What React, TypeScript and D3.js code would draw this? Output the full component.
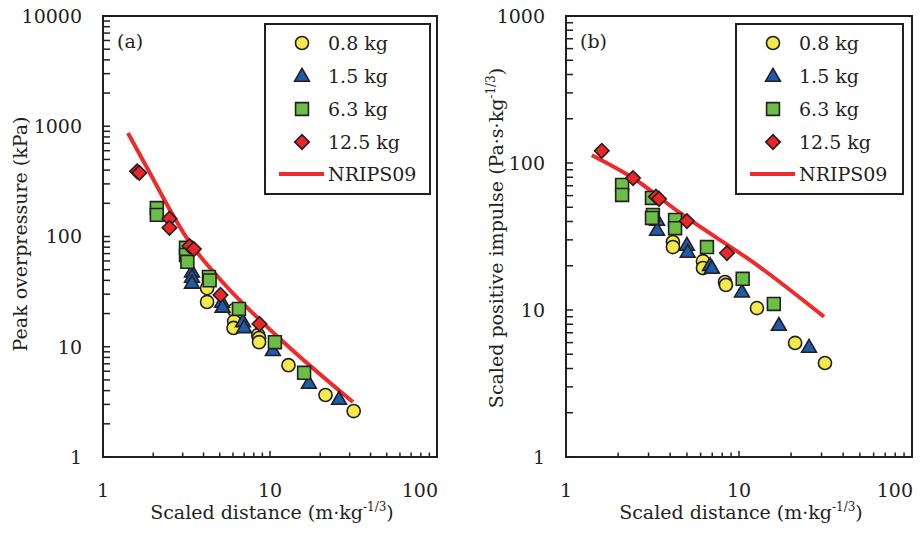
import React from 'react';
import * as d3 from 'd3';

// series labels
const seriesNames = ['0.8 kg', '1.5 kg', '6.3 kg', '12.5 kg'];
const lineName = 'NRIPS09';

// (a) peak overpressure [scaled distance, kPa]
const pressure08 = [[4.2, 34], [4.2, 25.5], [6.1, 21.5], [6.1, 17], [6.05, 14.8], [8.5, 12.8], [8.6, 12], [8.6, 11], [12.9, 6.8], [21.5, 3.65], [31.7, 2.61]];
const pressure15 = [[3.41, 48], [3.41, 43], [3.41, 38], [5.16, 25.5], [5.2, 23], [6.89, 17], [7.0, 15], [10.4, 9.3], [17.1, 4.7], [25.9, 3.36]];
const pressure63 = [[2.1, 181], [2.1, 157], [3.14, 79], [3.14, 68], [3.2, 59], [4.31, 43], [4.35, 40], [6.52, 22], [10.7, 11], [16.0, 5.8]];
const pressure125 = [[1.6, 390], [1.65, 378], [2.5, 145], [2.5, 120], [3.3, 82], [3.5, 77], [5.05, 29.5], [8.65, 16.1]];
const pressureModel = [[1.41, 870], [1.91, 377], [2.52, 174], [3.23, 93], [5.02, 41], [11.0, 12.5], [31.4, 3.15]];

// (b) scaled positive impulse [scaled distance, Pa·s·kg^-1/3]
const impulse08 = [[4.15, 29], [4.15, 26.8], [6.19, 21.5], [6.19, 19.3], [8.3, 15.5], [8.4, 14.8], [12.7, 10.3], [21.1, 5.97], [31.4, 4.36]];
const impulse15 = [[3.36, 41], [3.36, 35], [5.0, 27.7], [5.05, 24.8], [6.8, 20.2], [6.98, 19.3], [10.4, 13.3], [17.0, 7.9], [25.4, 5.6]];
const impulse63 = [[2.11, 71], [2.11, 60.6], [3.14, 57.8], [3.18, 44.3], [3.14, 42.3], [4.27, 41], [4.27, 36], [6.53, 26.8], [10.5, 16.3], [15.9, 11]];
const impulse125 = [[1.61, 121], [2.44, 79], [3.31, 59], [3.45, 57], [5.0, 40.3], [8.52, 24.4]];
const impulseModel = [[1.41, 113], [2.44, 79], [4.56, 45.7], [13.2, 19.6], [31.0, 9]];

const xTickLabels = ['1', '10', '100'];
const pressureTickLabels = ['1', '10', '100', '1000', '10000'];
const impulseTickLabels = ['1', '10', '100', '1000'];

const FONT = 'DejaVu Serif';
const INK = '#231f20';
const fills = ['#f3e94b', '#1f5bab', '#6cbf46', '#ec2528'];
const RED = '#ee2a2a';

const symbolPath = (i: number) => {
  if (i === 0) return d3.symbol(d3.symbolCircle, 135)();
  if (i === 1) return d3.symbol(d3.symbolTriangle, 95)();
  if (i === 2) return d3.symbol(d3.symbolSquare, 165)();
  return d3.symbol(d3.symbolSquare, 105)();
};

function Marker({ i, x, y }: { i: number; x: number; y: number }) {
  const rot = i === 3 ? ' rotate(45)' : '';
  const dy = i === 1 ? 1 : 0;
  return (
    <path d={symbolPath(i) as string} transform={`translate(${x},${y + dy})${rot}`}
      fill={fills[i]} stroke={INK} strokeWidth={1.6} />
  );
}

function Panel(props: any) {
  const { x0, x1, y0, y1, yMax, yLabels, series, model, tag, title, legend } = props;
  const x = d3.scaleLog().domain([1, 100]).range([x0, x1]);
  const y = d3.scaleLog().domain([1, yMax]).range([y1, y0]);
  const xTicks = x.ticks();
  const yTicks = y.ticks();
  const line = d3.line<number[]>().x(d => x(d[0])).y(d => y(d[1])).curve(d3.curveMonotoneX);
  const isMajor = (v: number) => Math.abs(Math.log10(v) - Math.round(Math.log10(v))) < 1e-6;
  const majorsY = yTicks.filter(isMajor);

  return (
    <g>
      {/* model curve under the markers */}
      <path d={line(model) as string} fill="none" stroke={RED} strokeWidth={4} />
      {series.map((pts: number[][], i: number) =>
        pts.map((p, j) => <Marker key={`${i}-${j}`} i={i} x={x(p[0])} y={y(p[1])} />)
      )}
      <rect x={x0} y={y0} width={x1 - x0} height={y1 - y0} fill="none" stroke={INK} strokeWidth={2} />
      {xTicks.map((v, k) => (
        <line key={k} x1={x(v)} x2={x(v)} y1={y1} y2={y1 - (isMajor(v) ? 6 : 4.5)} stroke={INK} strokeWidth={1.5} />
      ))}
      {yTicks.map((v, k) => (
        <line key={k} x1={x0} x2={x0 + 7} y1={y(v)} y2={y(v)} stroke={INK} strokeWidth={1.5} />
      ))}
      {xTickLabels.map((t, k) => (
        <text key={k} x={k === xTickLabels.length - 1 ? x1 + 1 : x(+t)} y={497}
          textAnchor={k === xTickLabels.length - 1 ? 'end' : 'middle'} fontSize={19}>{t}</text>
      ))}
      {yLabels.map((t: string, k: number) => (
        <text key={k} x={x0 - 21} y={y(majorsY[k])} dy="0.36em" textAnchor="end" fontSize={19}>{t}</text>
      ))}
      <text x={(x0 + x1) / 2 + 2} y={519} textAnchor="middle" fontSize={19}>
        Scaled distance (m·kg<tspan dy={-8} fontSize={12}>-1/3</tspan><tspan dy={8}>)</tspan>
      </text>
      <text transform={`translate(${title.x},${title.y}) rotate(-90)`} textAnchor="middle" fontSize={19}>
        {title.text}{title.sup ? <><tspan dy={-8} fontSize={12}>{title.sup}</tspan><tspan dy={8}>)</tspan></> : null}
      </text>
      <text x={x0 + 14} y={48} fontSize={19}>{tag}</text>
      {/* legend */}
      <rect x={legend.x} y={24} width={legend.w} height={170} fill="#fff" stroke={INK} strokeWidth={2} />
      {seriesNames.map((s, i) => (
        <g key={s}>
          <Marker i={i} x={legend.x + 37} y={43 + i * 33} />
          <text x={legend.x + 63} y={43 + i * 33} dy="0.36em" fontSize={19}>{s}</text>
        </g>
      ))}
      <line x1={legend.x + 14} x2={legend.x + 59} y1={174} y2={174} stroke={RED} strokeWidth={4} />
      <text x={legend.x + 63} y={174} dy="0.36em" fontSize={19}>{lineName}</text>
    </g>
  );
}

export default function App() {
  return (
    <svg width={923} height={533} fill={INK} fontFamily={FONT}
      style={{ position: 'absolute', left: 0, top: 0, background: '#fff' }}>
      <Panel x0={103} x1={437} y0={16} y1={457} yMax={10000} yLabels={pressureTickLabels}
        series={[pressure08, pressure15, pressure63, pressure125]} model={pressureModel} tag="(a)"
        title={{ x: 27, y: 234, text: 'Peak overpressure (kPa)' }}
        legend={{ x: 265, w: 165 }} />
      <Panel x0={566} x1={912} y0={16} y1={457} yMax={1000} yLabels={impulseTickLabels}
        series={[impulse08, impulse15, impulse63, impulse125]} model={impulseModel} tag="(b)"
        title={{ x: 503, y: 238, text: 'Scaled positive impulse (Pa·s·kg', sup: '-1/3' }}
        legend={{ x: 736, w: 167 }} />
    </svg>
  );
}
